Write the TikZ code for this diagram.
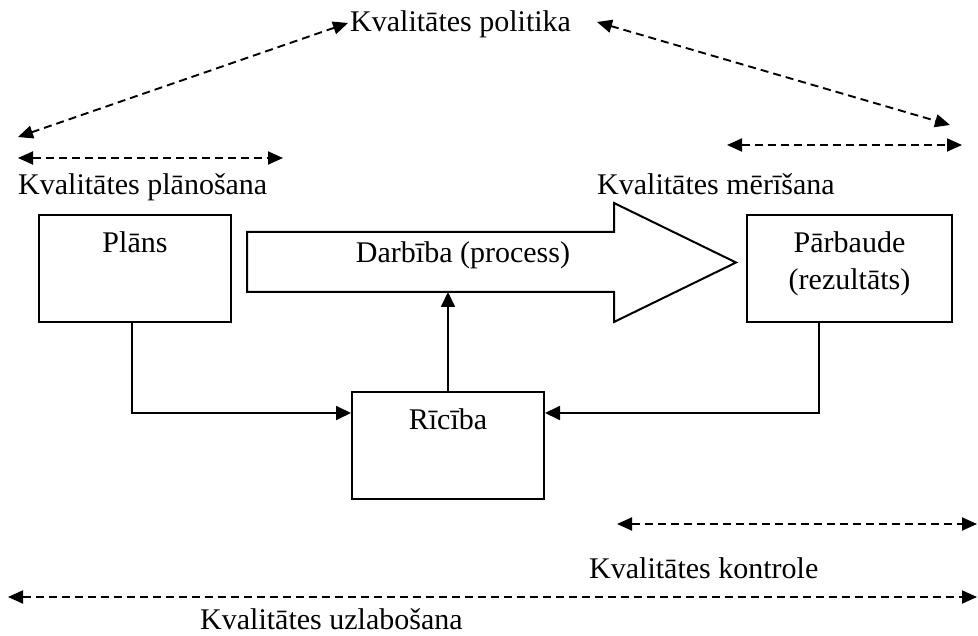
\documentclass[tikz,border=0pt]{standalone}
\usepackage{fontspec}
\setmainfont{Liberation Serif}
\usetikzlibrary{arrows.meta}
\begin{document}
\begin{tikzpicture}[x=1pt,y=-1pt,
  every node/.style={font=\fontsize{30}{37}\selectfont, inner sep=0pt},
  boxnode/.style={draw, line width=2pt, inner sep=0pt},
  conn/.style={line width=1.8pt, -{Triangle[length=15pt,width=14pt]}},
  dashd/.style={line width=1.9pt, dash pattern=on 8pt off 5pt,
     {Triangle[length=15pt,width=13pt]}-{Triangle[length=15pt,width=13pt]}},
  lbl/.style={anchor=base west}]
\useasboundingbox (0,0) rectangle (978,636);

% boxes
\node[boxnode, minimum width=192pt, minimum height=107pt] (plans) at (135,268.5) {};
\node[boxnode, minimum width=205pt, minimum height=107pt] (parb) at (849.5,268.5) {};
\node[boxnode, minimum width=192pt, minimum height=107pt] (ric) at (448,445.5) {};

% block arrow (process)
\draw[line width=2pt] (247,232) -- (614,232) -- (614,203) -- (736,262.5)
   -- (614,322) -- (614,292) -- (247,292) -- cycle;
\coordinate (darbbot) at (448,292);

% box texts
\node[anchor=base] (plansT) at (135,253) {Plāns};
\node[anchor=base] (parbT1) at (849.5,253) {Pārbaude};
\node[anchor=base] (parbT2) at (849.5,290) {(rezultāts)};
\node[anchor=base] (ricT) at (448,429) {Rīcība};
\node[anchor=base] (darbT) at (463,263) {Darbība (process)};

% solid connectors
\coordinate (lvl) at (0,413);
\draw[conn] ([xshift=-3pt]plans.south) |- (ric.west |- lvl);
\draw[conn] (ric.north) -- (darbbot);
\draw[conn] ([xshift=-30.5pt]parb.south) |- (ric.east |- lvl);

% labels
\node[lbl] (pol) at (350,32) {Kvalitātes politika};
\node[lbl] (plan) at (18,195) {Kvalitātes plānošana};
\node[lbl] (meri) at (597,195) {Kvalitātes mērīšana};
\node[lbl] (kontr) at (589,578) {Kvalitātes kontrole};
\node[lbl] (uzl) at (200,629) {Kvalitātes uzlabošana};

% dashed double arrows
\coordinate (polL) at (18,137);
\coordinate (polR) at (950,125);
\coordinate (polRs) at (597,22);
\coordinate (polLe) at (348,23);
\draw[dashd] (polL) -- (polLe);
\draw[dashd] (polRs) -- (polR);
\coordinate (plL) at (18,158);
\coordinate (plR) at (283,158);
\draw[dashd] (plL) -- (plR);
\coordinate (meL) at (727,145);
\coordinate (meR) at (962,145);
\draw[dashd] (meL) -- (meR);
\coordinate (koL) at (617,524);
\coordinate (koR) at (977,524);
\draw[dashd] (koL) -- (koR);
\coordinate (uzL) at (8,597);
\coordinate (uzR) at (977,597);
\draw[dashd] (uzL) -- (uzR);
\end{tikzpicture}
\end{document}
